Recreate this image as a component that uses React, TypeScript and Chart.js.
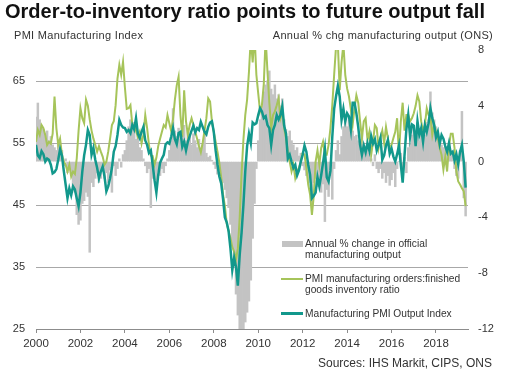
import React, { useEffect, useRef } from "react";
import { Chart, registerables } from "chart.js";

Chart.register(...registerables);

const FONT = 'Arial, "Liberation Sans", Helvetica, sans-serif';
const TEXT = "#333333";
const TEAL = "#12988c";
const GREEN = "#a6c45a";
const GRAY = "#c3c3c3";

// Monthly data, Jan 2000 .. May 2019
const startYear = 2000;

const pmiOutput = [
  54.7, 53.0, 52.6, 53.7, 53.2, 52.0, 52.5, 52.3, 51.5, 50.1, 50.3, 50.8,
  52.3, 54.0, 53.0, 50.5, 48.3, 46.1, 47.7, 46.6, 48.0, 47.5, 46.1, 44.8,
  47.0, 50.4, 53.0, 54.7, 57.1, 56.3, 53.1, 54.2, 52.3, 51.0, 49.3, 50.4,
  51.2, 49.6, 47.2, 48.0, 49.3, 51.0, 53.6, 54.5, 56.3, 58.7, 57.9, 57.5,
  57.4, 56.8, 57.1, 56.6, 57.9, 57.2, 59.0, 56.5, 55.8, 56.8, 57.6, 55.4,
  54.7, 53.4, 53.8, 51.5, 49.0, 47.0, 49.8, 51.8, 52.5, 53.1, 54.8, 55.1,
  54.9, 56.0, 57.4, 55.6, 54.8, 56.6, 56.8, 54.4, 55.2, 53.8, 55.2, 56.1,
  57.0, 57.8, 56.7, 57.4, 57.1, 58.4, 57.6, 56.8, 56.4, 57.6, 58.3, 58.5,
  56.8, 53.8, 51.5, 49.6, 48.5, 46.0, 43.0, 42.2, 40.8, 38.0, 34.5, 36.5,
  35.0, 32.0, 37.0, 40.5, 45.0, 50.4, 54.5, 56.5, 55.0, 58.3, 58.0, 58.2,
  59.5, 60.6, 60.1, 59.0, 59.3, 57.9, 57.4, 54.7, 57.1, 57.9, 59.5, 58.8,
  59.5, 60.9, 57.8, 56.5, 52.5, 53.1, 52.0, 51.0, 51.5, 49.8, 50.6, 52.0,
  53.1, 54.6, 53.6, 51.5, 49.9, 46.1, 46.5, 47.0, 49.5, 48.0, 49.8, 51.8,
  54.0, 49.5, 48.8, 50.5, 56.0, 60.5, 62.5, 64.2, 62.5, 58.7, 60.5, 58.5,
  59.8, 59.3, 57.2, 61.5, 61.5, 59.8, 57.6, 54.7, 53.1, 54.6, 53.5, 55.0,
  53.8, 56.1, 54.9, 55.6, 53.8, 54.7, 55.8, 52.3, 53.0, 54.6, 55.5, 53.3,
  54.1, 52.8, 52.0, 53.2, 54.6, 51.5, 48.6, 53.0, 57.2, 59.5, 56.0, 58.0,
  57.8, 54.5, 58.5, 56.3, 57.4, 55.2, 57.9, 56.8, 58.2, 60.6, 59.0, 57.9,
  55.9, 56.8, 54.9, 56.3, 55.7, 54.5, 53.6, 55.0, 53.3, 53.6, 52.2, 53.2,
  51.6, 53.6, 54.7, 52.0, 47.8,
];

const ordersInventoryRatio = [
  55.2, 57.1, 56.3, 57.9, 57.4, 56.3, 54.7, 55.2, 54.9, 56.5, 62.5, 57.4,
  54.7, 55.7, 53.1, 52.0, 51.5, 50.4, 51.5, 49.6, 50.4, 50.0, 52.5, 57.0,
  60.6, 59.0, 58.2, 62.0, 61.0, 58.8, 57.0, 55.7, 54.7, 53.6, 54.5, 53.6,
  52.8, 51.5, 52.0, 53.6, 55.7, 57.9, 58.5, 61.1, 65.4, 67.6, 66.0, 68.1,
  64.0, 60.5, 60.6, 61.1, 58.0, 57.6, 57.0, 56.0, 56.8, 54.9, 56.3, 59.5,
  57.4, 54.7, 53.0, 52.9, 51.5, 52.6, 54.5, 55.7, 56.8, 57.9, 57.5, 59.5,
  58.2, 56.9, 58.9, 62.0, 64.3, 65.7, 59.5, 56.0, 63.5, 58.5, 56.3, 57.9,
  59.0, 57.9, 56.8, 55.7, 54.5, 53.5, 55.0, 57.0, 59.0, 62.2, 61.7, 58.5,
  56.8, 55.2, 53.6, 51.8, 49.5, 46.7, 44.8, 42.0, 40.8, 39.7, 38.2, 37.5,
  36.2, 38.0, 43.0, 50.0, 55.5, 59.5, 62.0, 66.5, 72.0, 68.0, 72.5, 66.0,
  63.0, 60.1, 61.1, 64.5, 72.0, 66.5, 61.5, 57.4, 59.5, 60.1, 61.1, 62.2,
  59.0, 60.1, 57.4, 55.8, 53.6, 52.0, 50.4, 51.5, 49.3, 50.4, 51.0, 52.0,
  53.4, 53.1, 51.0, 48.3, 46.7, 43.4, 46.5, 52.0, 53.8, 51.5, 54.2, 55.2,
  53.1, 53.1, 54.7, 57.4, 61.1, 66.0, 70.5, 71.0, 63.5, 68.0, 71.0, 66.0,
  63.8, 62.5, 60.5, 58.0, 60.6, 62.7, 61.5, 58.5, 55.8, 58.5, 59.0, 55.5,
  56.8, 53.1, 55.2, 57.9, 57.4, 54.2, 55.8, 57.0, 55.0, 57.6, 55.8, 54.2,
  54.7, 55.8, 56.8, 59.0, 53.1, 58.5, 61.5, 57.0, 59.5, 59.5, 58.5, 59.0,
  59.8, 61.0, 62.7, 61.7, 58.5, 56.8, 57.9, 60.6, 59.5, 59.3, 56.3, 57.9,
  56.8, 55.8, 54.2, 53.1, 50.7, 52.8, 50.4, 54.5, 56.5, 56.5, 54.2, 50.4,
  48.8, 48.3, 47.7, 47.2, 44.8,
];

const mfgOutputYoY = [
  3.2, 4.2, 3.0, 2.6, 2.3, 2.0, 2.2, 1.5, 1.8, 1.2, 1.0, 0.8,
  1.5, 0.5, 0.8, -0.3, 0.2, -0.8, -0.6, -1.0, -1.8, -2.2, -3.8, -4.5,
  -4.2, -3.0, -2.8, -2.2, -2.5, -6.5, -1.5, -1.8, -1.2, -0.8, -1.5, -1.2,
  -0.5, -1.2, -0.8, -1.5, -0.6, -2.2, -0.3, -1.0, -0.5, 0.2, -0.4, 0.5,
  0.8, 1.5, 2.5, 3.0, 2.4, 2.8, 1.6, 2.0, 1.0, 0.8, 0.2, -0.3,
  -0.8, -0.5, -3.3, -1.2, -0.8, -1.5, -0.7, -1.0, -0.5, -0.8, -0.3, 0.2,
  0.8, 1.5, 3.8, 2.2, 1.8, 2.4, 1.6, 2.0, 2.6, 1.5, 2.2, 1.8,
  1.2, 2.0, 1.5, 1.0, 1.6, 0.8, 1.2, 2.0, 0.6, 0.3, 0.4, 0.1,
  -0.2, -0.5, -0.9, -0.6, -1.0, -1.5, -2.0, -2.6, -3.3, -4.5, -6.0, -7.5,
  -9.5, -11.0, -12.3, -12.5, -12.0, -11.5, -10.8, -10.0, -8.5, -5.5, -3.0, -0.5,
  1.5, 3.0, 4.0, 5.0, 5.5, 5.8, 6.5, 5.2, 4.8, 5.5, 4.5, 4.8,
  4.0, 4.5, 3.0, 2.3, 1.8, 2.2, 1.5, 1.2, 0.8, 1.0, 0.4, 0.6,
  -0.3, -0.6, -1.0, -1.5, -0.8, -3.0, -1.5, -1.2, -1.8, -1.5, -2.2, -1.6,
  -4.3, -2.0, -2.5, -1.0, -2.7, -0.5, 0.8, 1.5, 0.5, 1.8, 2.5, 3.0,
  2.5, 3.0, 2.8, 2.2, 1.8, 1.9, 1.5, 1.6, 2.0, 1.2, 0.8, 1.0,
  0.6, 0.2, -0.3, 0.5, -0.5, -0.8, -0.5, -1.2, -0.8, -1.5, -1.0, -1.7,
  -1.3, -0.8, -1.8, -0.5, 0.0, 0.6, -0.4, 0.3, -0.8, 1.0, 1.3, 1.9,
  2.5, 1.7, 2.8, 1.5, 2.2, 2.5, 1.9, 2.8, 3.0, 5.0, 3.5, 3.0,
  2.5, 2.0, 1.4, 1.2, 1.0, 1.1, 0.8, 1.3, 0.8, 0.5, -0.5, -1.0,
  -1.2, 0.8, 3.6, -2.6, -3.9,
];

const xTickYears = [2000, 2002, 2004, 2006, 2008, 2010, 2012, 2014, 2016, 2018];
const leftTicks = [25, 35, 45, 55, 65];
const rightTicks = [-12, -8, -4, 0, 4, 8];

const toPoints = (values: number[]) =>
  values.map((v, i) => ({ x: startYear + i / 12, y: v }));

const W = 506;
const H = 377;

function Label(props: {
  x?: number;
  right?: number;
  baseline: number;
  size: number;
  bold?: boolean;
  spacing?: number;
  children: React.ReactNode;
}) {
  const { x, right, baseline, size, bold, spacing, children } = props;
  const style: React.CSSProperties = {
    position: "absolute",
    top: baseline - 0.8465 * size,
    fontFamily: FONT,
    fontSize: size,
    lineHeight: 1,
    fontWeight: bold ? 700 : 400,
    color: bold ? "#111111" : TEXT,
    whiteSpace: "nowrap",
    letterSpacing: spacing ? spacing : 0,
  };
  if (right !== undefined) {
    style.right = W - right;
    style.textAlign = "right";
  } else {
    style.left = x;
  }
  return <div style={style}>{children}</div>;
}

function Swatch(props: { x: number; y: number; w: number; h: number; color: string }) {
  return (
    <div
      style={{
        position: "absolute",
        left: props.x,
        top: props.y - props.h / 2,
        width: props.w,
        height: props.h,
        background: props.color,
      }}
    />
  );
}

export default function App() {
  const ref = useRef<HTMLCanvasElement>(null);

  useEffect(() => {
    if (!ref.current) return;
    const tickFont = { family: FONT, size: 11 };
    const chart = new Chart(ref.current, {
      type: "bar",
      data: {
        datasets: [
          {
            type: "line",
            label: "Manufacturing PMI Output Index",
            data: toPoints(pmiOutput),
            yAxisID: "y",
            borderColor: TEAL,
            borderWidth: 2.5,
            pointRadius: 0,
            tension: 0,
            order: 0,
          },
          {
            type: "line",
            label: "PMI manufacturing orders:finished goods inventory ratio",
            data: toPoints(ordersInventoryRatio),
            yAxisID: "y",
            borderColor: GREEN,
            borderWidth: 2,
            pointRadius: 0,
            tension: 0,
            order: 1,
          },
          {
            type: "bar",
            label: "Annual % change in official manufacturing output",
            data: toPoints(mfgOutputYoY),
            yAxisID: "y2",
            backgroundColor: GRAY,
            borderWidth: 0,
            barPercentage: 1,
            categoryPercentage: 1,
            order: 2,
          },
        ] as any,
      },
      options: {
        animation: false,
        responsive: false,
        maintainAspectRatio: false,
        layout: { padding: { top: 50, left: 0, right: 0, bottom: 0 } },
        plugins: { legend: { display: false }, tooltip: { enabled: false } },
        scales: {
          x: {
            type: "linear",
            min: 2000,
            max: 2019.44,
            offset: false,
            afterBuildTicks: (s: any) => {
              s.ticks = xTickYears.map((v) => ({ value: v }));
            },
            afterFit: (s: any) => {
              s.height = 48;
            },
            grid: {
              drawOnChartArea: false,
              drawTicks: true,
              tickLength: 4,
              color: "#8c8c8c",
              offset: false,
            },
            border: { display: true, color: "#8c8c8c" },
            ticks: {
              font: { family: FONT, size: 11.5 },
              color: TEXT,
              padding: 4,
              maxRotation: 0,
              autoSkip: false,
              callback: (v: any) => String(v),
            },
          },
          y: {
            position: "left",
            min: 25,
            max: 70,
            afterBuildTicks: (s: any) => {
              s.ticks = leftTicks.map((v) => ({ value: v }));
            },
            afterFit: (s: any) => {
              s.width = 36;
            },
            grid: {
              drawTicks: false,
              color: (ctx: any) =>
                ctx.tick && ctx.tick.value === 25 ? "rgba(0,0,0,0)" : "#a8a8a8",
            },
            border: { display: false },
            ticks: { font: tickFont, color: TEXT, padding: 11 },
          },
          y2: {
            position: "right",
            min: -12,
            max: 8,
            afterBuildTicks: (s: any) => {
              s.ticks = rightTicks.map((v) => ({ value: v }));
            },
            afterFit: (s: any) => {
              s.width = 38;
            },
            grid: { drawOnChartArea: false, drawTicks: false },
            border: { display: false },
            ticks: { font: tickFont, color: TEXT, padding: 10 },
          },
        },
      } as any,
    });
    return () => chart.destroy();
  }, []);

  return (
    <div
      style={{
        position: "absolute",
        left: 0,
        top: 0,
        width: W,
        height: H,
        background: "#ffffff",
        overflow: "hidden",
      }}
    >
      <canvas
        ref={ref}
        width={W}
        height={H}
        style={{ position: "absolute", left: 0, top: 0, width: W, height: H }}
      />
      <Label x={5} baseline={18.3} size={20} bold>
        Order-to-inventory ratio points to future output fall
      </Label>
      <Label x={14} baseline={39.5} size={11} spacing={0.3}>
        PMI Manufacturing Index
      </Label>
      <Label right={493} baseline={39.5} size={11} spacing={0.3}>
        Annual % chg manufacturing output (ONS)
      </Label>

      <Swatch x={282} y={244} w={21} h={6} color={GRAY} />
      <Label x={305} baseline={247.5} size={10.2}>
        Annual % change in official
      </Label>
      <Label x={305} baseline={258.5} size={10.2}>
        manufacturing output
      </Label>

      <Swatch x={281} y={278.7} w={22} h={2.2} color={GREEN} />
      <Label x={305} baseline={282.5} size={10.2}>
        PMI manufacturing orders:finished
      </Label>
      <Label x={305} baseline={293.5} size={10.2}>
        goods inventory ratio
      </Label>

      <Swatch x={281} y={313.3} w={22} h={2.6} color={TEAL} />
      <Label x={305} baseline={317.5} size={10.2}>
        Manufacturing PMI Output Index
      </Label>

      <Label right={492} baseline={367} size={12}>
        Sources: IHS Markit, CIPS, ONS
      </Label>
    </div>
  );
}
